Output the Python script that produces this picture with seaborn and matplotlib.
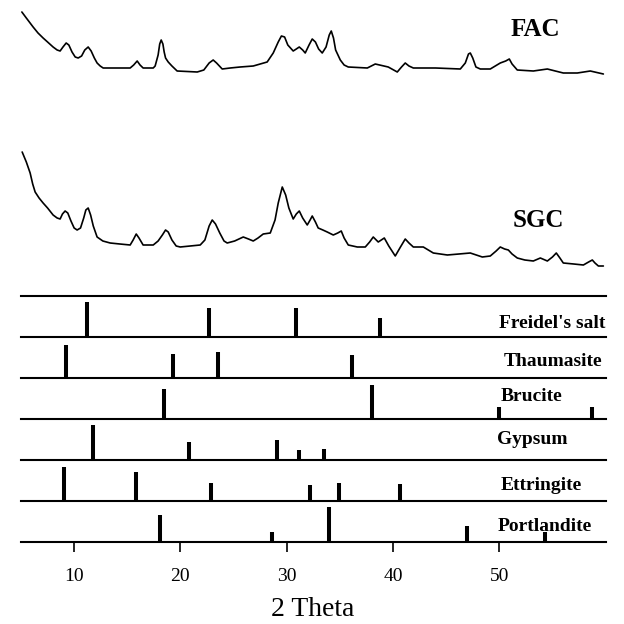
import matplotlib
matplotlib.use("Agg")
import matplotlib.pyplot as plt
import seaborn as sns
import pandas as pd

sns.set_theme(style="white")
plt.rcParams['font.family'] = ['Liberation Serif', 'DejaVu Serif']
plt.rcParams.update({'text.color': 'black', 'xtick.color': 'black',
                     'axes.labelcolor': 'black', 'axes.edgecolor': 'black'})

# ---------------- data ----------------
fac_2theta = [5.08, 5.5, 6.14, 6.6, 7.08, 7.5, 8.02, 8.4, 8.68, 8.95, 9.25, 9.5, 9.8, 10.1,
              10.38, 10.7, 11.0, 11.32, 11.6, 11.9, 12.16, 12.45, 12.73, 14.0, 15.27, 15.6,
              15.93, 16.2, 16.49, 17.44, 17.62, 17.9, 18.05, 18.19, 18.35, 18.47, 18.6, 18.85,
              19.2, 19.69, 21.58, 22.2, 22.7, 23.08, 23.4, 23.93, 24.68, 25.62, 26.85, 28.16,
              28.73, 29.2, 29.5, 29.8, 30.1, 30.61, 30.9, 31.18, 31.5, 31.74, 32.1, 32.4,
              32.7, 33.0, 33.34, 33.7, 34.0, 34.19, 34.4, 34.6, 35.04, 35.4, 35.79, 37.58,
              38.33, 39.55, 40.4, 40.8, 41.15, 41.5, 41.91, 44.0, 46.33, 46.8, 47.1, 47.27,
              47.5, 47.8, 48.21, 49.15, 50.09, 50.6, 50.94, 51.2, 51.69, 53.2, 54.52, 56.02,
              57.34, 58.56, 59.79]
fac_int = [68, 62, 53, 47, 42, 38, 33, 30, 29, 33, 37, 35, 28, 23,
           22, 24, 30, 33, 29, 22, 17, 14, 12, 12, 12, 15,
           19, 15, 12, 12, 14, 25, 36, 40, 36, 28, 22, 18,
           14, 9, 8, 10, 17, 20, 17, 11, 12, 13, 14, 18,
           27, 38, 44, 43, 35, 29, 31, 33, 30, 27, 35, 41,
           38, 31, 27, 33, 45, 49, 42, 30, 20, 15, 13, 12,
           16, 13, 8, 13, 17, 14, 12, 12, 11, 17, 26, 27,
           22, 13, 11, 11, 17, 19, 21, 16, 10, 9, 11, 7,
           7, 9, 6]

sgc_2theta = [5.11, 5.5, 5.86, 6.1, 6.33, 6.7, 7.08, 7.5, 8.02, 8.4, 8.68, 8.9, 9.15, 9.4,
              9.7, 10.0, 10.28, 10.6, 10.9, 11.1, 11.32, 11.55, 11.8, 12.16, 12.7, 13.39,
              14.3, 15.27, 15.55, 15.84, 16.1, 16.49, 17.44, 17.9, 18.3, 18.6, 18.85, 19.2,
              19.6, 19.98, 21.86, 22.3, 22.7, 22.99, 23.3, 23.7, 24.1, 24.4, 25.1, 25.91,
              26.4, 26.85, 27.3, 27.79, 28.45, 28.9, 29.2, 29.58, 29.9, 30.2, 30.61, 30.9,
              31.18, 31.5, 31.93, 32.2, 32.4, 32.7, 32.96, 33.4, 33.81, 34.38, 34.8, 35.13,
              35.4, 35.79, 36.64, 37.39, 37.8, 38.14, 38.61, 39.18, 39.6, 40.21, 40.7, 41.15,
              41.5, 41.91, 42.85, 43.79, 45.11, 46.2, 47.27, 48.4, 49.15, 49.7, 50.09, 50.5,
              50.85, 51.2, 51.69, 52.4, 53.2, 53.86, 54.52, 55.0, 55.36, 55.7, 56.02, 57.0,
              57.91, 58.4, 58.75, 59.0, 59.32, 59.79]
sgc_int = [118, 108, 97, 86, 78, 72, 67, 62, 55, 52, 51, 56, 59, 57,
           49, 42, 40, 42, 52, 60, 62, 55, 44, 33, 29, 27,
           26, 25, 30, 36, 32, 25, 25, 29, 35, 40, 38, 30,
           24, 23, 25, 30, 44, 50, 46, 37, 29, 27, 29, 33,
           31, 29, 32, 36, 37, 50, 67, 83, 75, 62, 51, 56,
           59, 52, 45, 50, 54, 48, 42, 40, 38, 35, 37, 39,
           32, 25, 23, 23, 28, 33, 28, 32, 24, 14, 23, 31,
           27, 23, 23, 17, 15, 16, 17, 13, 14, 19, 23, 21,
           20, 16, 12, 10, 9, 12, 9, 13, 17, 12, 7, 6,
           5, 8, 10, 7, 4, 4]

phase_names = ["Freidel's salt", "Thaumasite", "Brucite", "Gypsum", "Ettringite", "Portlandite"]
freidel_pos = [11.2, 22.7, 30.9, 38.8]
freidel_int = [100, 83, 83, 54]
thaum_pos = [9.25, 19.3, 23.5, 36.1]
thaum_int = [94, 69, 74, 66]
brucite_pos = [18.5, 38.0, 50.0, 58.75]
brucite_int = [86, 97, 34, 34]
gypsum_pos = [11.8, 20.8, 29.1, 31.2, 33.5]
gypsum_int = [100, 51, 57, 29, 31]
ettr_pos = [9.06, 15.8, 22.9, 32.2, 34.9, 40.7]
ettr_int = [97, 83, 51, 46, 51, 49]
portl_pos = [18.1, 28.6, 34.0, 47.0, 54.3]
portl_int = [77, 29, 100, 46, 29]

x_ticks = [10, 20, 30, 40, 50]
x_label = "2 Theta"

# ---------------- layout ----------------
W = H = 624
fig = plt.figure(figsize=(6.24, 6.24), dpi=100)
left = 21 / W
width = (605.6 - 21) / W
xlim = (5, 60)

def ax_at(top_px, bot_px):
    return fig.add_axes([left, 1 - bot_px / H, width, (bot_px - top_px) / H])

# traces
ax_t = ax_at(0, 296)
df = pd.concat([
    pd.DataFrame({"2theta": fac_2theta, "I": [v + 216 for v in fac_int], "s": "FAC"}),
    pd.DataFrame({"2theta": sgc_2theta, "I": [v + 26 for v in sgc_int], "s": "SGC"}),
])
sns.lineplot(data=df, x="2theta", y="I", units="s", estimator=None, color="black",
             lw=1.2, ax=ax_t, legend=False)
ax_t.set_xlim(*xlim)
ax_t.set_ylim(0, 296)
ax_t.axis("off")
fig.text(535 / W, 1 - 29 / H, "FAC", ha="center", va="center", fontsize=18,
         fontweight="bold")
fig.text(538 / W, 1 - 220 / H, "SGC", ha="center", va="center", fontsize=18,
         fontweight="bold")

# stick panels
sticks = [(freidel_pos, freidel_int), (thaum_pos, thaum_int), (brucite_pos, brucite_int),
          (gypsum_pos, gypsum_int), (ettr_pos, ettr_int), (portl_pos, portl_int)]
label_x = [50.0, 50.4, 50.1, 49.8, 50.1, 49.8]
label_y = [0.32, 0.41, 0.54, 0.51, 0.37, 0.39]
panel_h = 41
top0 = 296
for i, (name, (pos, inten)) in enumerate(zip(phase_names, sticks)):
    ax = ax_at(top0 + panel_h * i, top0 + panel_h * (i + 1))
    ax.vlines(pos, 0, inten, color="black", lw=2.9, clip_on=False)
    ax.set_xlim(*xlim)
    ax.set_ylim(0, panel_h / 35 * 100)
    for s in ["left", "right", "top"]:
        ax.spines[s].set_visible(False)
    ax.spines["bottom"].set_color("black")
    ax.spines["bottom"].set_linewidth(1.5)
    if i == 0:
        ax.spines["top"].set_visible(True)
        ax.spines["top"].set_color("black")
        ax.spines["top"].set_linewidth(1.5)
    ax.set_yticks([])
    ax.text(label_x[i], label_y[i], name, transform=ax.get_xaxis_transform(),
            ha="left", va="center", fontsize=14, fontweight="bold", color="black")
    if i == len(phase_names) - 1:
        ax.set_xticks(x_ticks)
        ax.tick_params(axis="x", bottom=True, direction="out", length=7.5, width=1.2,
                       color="black", labelcolor="black", labelsize=14, pad=11)
    else:
        ax.set_xticks([])
    ax.set_facecolor("none")

fig.text(313 / W, 1 - 610 / H, x_label, ha="center", va="center", fontsize=20)

fig.savefig("out.png", dpi=100, facecolor="white")
